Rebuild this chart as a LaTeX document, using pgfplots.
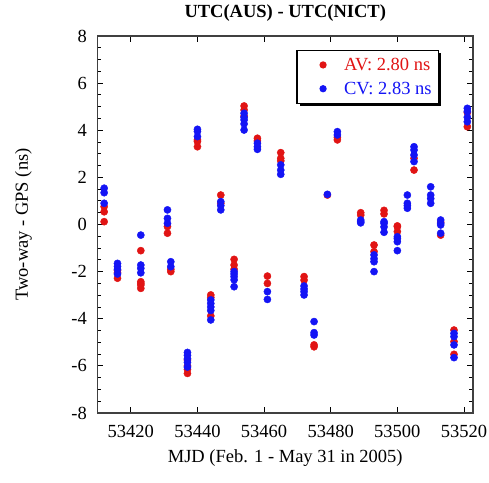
\documentclass[border=0pt]{standalone}
\usepackage{fontspec}
\setmainfont{Liberation Serif}
\usepackage{pgfplots}
\pgfplotsset{compat=1.18}
\usetikzlibrary{shadows}
\definecolor{avred}{RGB}{225,20,20}
\definecolor{cvblue}{RGB}{20,20,245}
\newcommand{\fs}{\fontsize{18.5bp}{22bp}\selectfont}
\begin{document}
\begin{tikzpicture}
\useasboundingbox (-97.5bp,-70bp) rectangle (391.5bp,413bp);
\begin{axis}[
  at={(0,0)}, anchor=south west,
  scale only axis, width=375.5bp, height=377bp,
  xmin=53410, xmax=53522.7, ymin=-8, ymax=8,
  xtick={53420,53440,...,53520}, ytick={-8,-6,...,8},
  scaled ticks=false,
  xticklabels={53420,53440,53460,53480,53500,53520},
  minor y tick num=3, minor x tick num=0,
  major tick length=6bp, minor tick length=4bp,
  tick style={black, line width=0.9bp},
  axis line style={black!75, line width=1.4bp},
  /pgf/number format/assume math mode=true,
  /pgf/number format/1000 sep={},
  tick label style={font=\fs},
  xticklabel style={anchor=base, yshift=-24bp},
  yticklabel style={anchor=east, inner sep=0pt, xshift=-10.5bp},
  title={UTC(AUS) - UTC(NICT)},
  title style={font=\fs\bfseries, at={(axis description cs:0.5,1.0345)}, anchor=base},
  xlabel={MJD (Feb. 1 - May 31 in 2005)},
  xlabel style={font=\fs, at={(axis description cs:0.5,-0.1326)}, anchor=base},
  ylabel={Two-way - GPS (ns)},
  ylabel style={font=\fs, at={(axis description cs:-0.1851,0.5)}, anchor=base},
  legend style={font=\fs, at={(axis description cs:0.91,0.963)}, anchor=north east,
    draw=black, line width=1.2bp, fill=white,
    drop shadow={shadow xshift=2.5bp, shadow yshift=-2.5bp, opacity=1, fill=black},
    row sep=6bp, inner xsep=5bp, inner ysep=5.5bp},
  legend cell align=left,
  legend image code/.code={%
    \pgfpathmoveto{\pgfpoint{0bp}{0bp}}\pgfpathlineto{\pgfpoint{40bp}{0bp}}\pgfusepath{}%
    \path[#1, draw=none, mark size=3bp] plot coordinates {(21bp,0bp)};},
]
\addplot[only marks, mark=*, mark size=3.6bp, color=avred] coordinates {
(53412,0.12)(53412,0.54)(53412,0.76)
(53416,-1.95)(53416,-2.05)(53416,-2.28)
(53423,-1.11)(53423,-2.43)(53423,-2.5)(53423,-2.57)(53423,-2.71)
(53431,-0.09)(53431,-0.37)
(53432,-1.9)(53432,-2.0)
(53437,-5.75)(53437,-6.0)(53437,-6.15)(53437,-6.32)
(53440,3.59)(53440,3.52)(53440,3.30)
(53444,-2.99)(53444,-3.1)(53444,-3.88)
(53447,1.25)(53447,0.9)
(53451,-1.48)(53451,-1.72)(53451,-1.9)
(53454,5.03)(53454,4.86)(53454,4.6)
(53458,3.66)(53458,3.55)
(53461,-2.19)(53461,-2.5)
(53465,3.05)(53465,2.81)(53465,2.7)
(53472,-2.21)(53472,-2.36)
(53475,-5.11)(53475,-5.19)
(53479,1.25)
(53482,3.59)(53482,3.7)
(53489,0.5)(53489,0.4)
(53493,-0.87)(53493,-1.15)
(53496,0.6)(53496,0.45)
(53500,-0.06)(53500,-0.09)(53500,-0.3)
(53505,2.81)(53505,2.31)
(53513,0.1)(53513,-0.45)
(53517,-4.48)(53517,-4.97)(53517,-5.51)
(53521,4.75)(53521,4.15)
};
\addlegendentry{\textcolor{avred}{AV: 2.80 ns}}
\addplot[only marks, mark=*, mark size=3.6bp, color=cvblue] coordinates {
(53412,0.90)(53412,1.35)(53412,1.54)
(53416,-1.65)(53416,-1.78)(53416,-1.9)(53416,-2.1)
(53423,-0.45)(53423,-1.72)(53423,-1.86)(53423,-2.05)
(53431,0.62)(53431,0.26)(53431,0.05)
(53432,-1.58)(53432,-1.79)
(53437,-5.43)(53437,-5.55)(53437,-5.7)(53437,-5.85)(53437,-6.05)
(53440,4.04)(53440,3.95)(53440,3.73)
(53444,-3.2)(53444,-3.35)(53444,-3.5)(53444,-3.65)(53444,-4.05)
(53447,0.97)(53447,0.8)(53447,0.62)
(53451,-2.0)(53451,-2.1)(53451,-2.21)(53451,-2.35)(53451,-2.64)
(53454,4.72)(53454,4.55)(53454,4.44)(53454,4.27)(53454,4.01)
(53458,3.45)(53458,3.30)(53458,3.19)
(53461,-2.85)(53461,-3.18)
(53465,2.53)(53465,2.31)(53465,2.13)
(53472,-2.61)(53472,-2.74)(53472,-2.85)(53472,-2.99)
(53475,-4.12)(53475,-4.59)(53475,-4.69)
(53479,1.28)
(53482,3.94)(53482,3.80)
(53489,0.19)(53489,0.12)(53489,0.07)
(53493,-1.29)(53493,-1.45)(53493,-1.58)(53493,-2.0)
(53496,0.12)(53496,0.05)(53496,-0.1)(53496,-0.33)
(53500,-0.52)(53500,-0.6)(53500,-0.73)(53500,-1.11)
(53503,1.25)(53503,0.9)(53503,0.8)(53503,0.69)
(53505,3.30)(53505,3.16)(53505,2.95)(53505,2.67)
(53510,1.6)(53510,1.25)(53510,1.1)(53510,0.9)
(53513,0.19)(53513,0.05)(53513,-0.02)(53513,-0.37)
(53517,-4.62)(53517,-4.76)(53517,-5.11)(53517,-5.65)
(53521,4.93)(53521,4.8)(53521,4.55)(53521,4.36)
};
\addlegendentry{\textcolor{cvblue}{CV: 2.83 ns}}
\end{axis}
\end{tikzpicture}
\end{document}
